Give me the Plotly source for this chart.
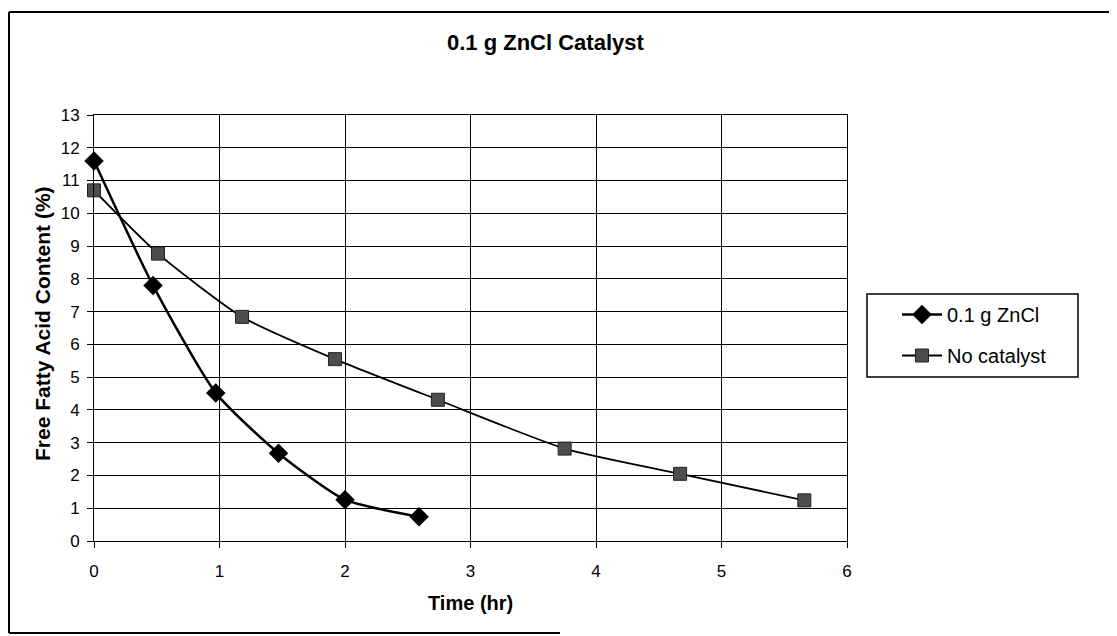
import plotly.graph_objects as go

# data
znclTime = [0, 0.47, 0.97, 1.47, 2.0, 2.59]
znclFfa = [11.6, 7.8, 4.52, 2.68, 1.26, 0.74]
noCatTime = [0, 0.51, 1.18, 1.92, 2.74, 3.75, 4.67, 5.66]
noCatFfa = [10.7, 8.77, 6.84, 5.55, 4.31, 2.82, 2.05, 1.24]

xTicks = [0, 1, 2, 3, 4, 5, 6]
yTicks = list(range(0, 14))

FONT = "Liberation Sans, Arial, sans-serif"

# the page body has an 8px margin, so the figure starts at (8, 8) in the window
OFF = 8
WIN_W, WIN_H = 1117, 636
W, H = WIN_W - OFF, WIN_H - OFF
# plot area in window pixels
PL, PR, PT, PB = 94, 847, 115, 541
L, R, T, B = PL - OFF, WIN_W - PR, PT - OFF, WIN_H - PB
pw, ph = PR - PL, PB - PT


def px_x(p):
    return (p - PL) / pw


def px_y(p):
    return (PB - p) / ph


fig = go.Figure()
fig.add_trace(
    go.Scatter(
        x=znclTime,
        y=znclFfa,
        name="0.1 g ZnCl",
        legendgroup="a",
        mode="lines+markers",
        line=dict(color="black", width=2.5, shape="spline", smoothing=0.6),
        marker=dict(symbol="diamond", size=15, color="black"),
        cliponaxis=False,
    )
)
fig.add_trace(
    go.Scatter(
        x=noCatTime,
        y=noCatFfa,
        name="No catalyst",
        legendgroup="b",
        mode="lines+markers",
        line=dict(color="black", width=1.8, shape="spline", smoothing=0.6),
        marker=dict(symbol="square", size=13, color="#4d4d4d",
                    line=dict(color="#222222", width=1)),
        cliponaxis=False,
    )
)

axis_common = dict(
    showgrid=True,
    gridcolor="black",
    gridwidth=1,
    showline=True,
    linecolor="black",
    linewidth=1,
    mirror=True,
    ticks="outside",
    ticklen=6,
    tickcolor="black",
    zeroline=False,
    tickfont=dict(family=FONT, size=17, color="black"),
)

fig.update_xaxes(range=[0, 6], tickvals=xTicks, ticklabelstandoff=9, **axis_common)
fig.update_yaxes(range=[0, 13], tickvals=yTicks, ticklabelstandoff=4, **axis_common)

# outer chart border + legend box
border = dict(type="line", xref="paper", yref="paper", line=dict(color="black", width=2))
x0b, x1b, y0b, y1b = px_x(9), px_x(WIN_W + 20), px_y(633), px_y(12)
shapes = [
    dict(border, x0=x0b, x1=x1b, y0=y1b, y1=y1b),
    dict(border, x0=x0b, x1=x0b, y0=y0b, y1=y1b),
    dict(border, x0=x0b, x1=px_x(560), y0=y0b, y1=y0b),
    dict(type="rect", xref="paper", yref="paper",
         x0=px_x(867), x1=px_x(1078), y0=px_y(377), y1=px_y(294),
         line=dict(color="black", width=1.5), fillcolor="rgba(0,0,0,0)"),
]

fig.update_layout(
    width=W,
    height=H,
    margin=dict(l=L, r=R, t=T, b=B),
    paper_bgcolor="white",
    plot_bgcolor="white",
    font=dict(family=FONT, color="black"),
    shapes=shapes,
    showlegend=True,
    legend=dict(
        x=px_x(897),
        y=px_y(295),
        xanchor="left",
        yanchor="top",
        borderwidth=0,
        bgcolor="rgba(0,0,0,0)",
        font=dict(family=FONT, size=20, color="black"),
        traceorder="grouped",
        tracegroupgap=12,
        itemwidth=40,
    ),
    annotations=[
        dict(
            text="<b>0.1 g ZnCl Catalyst</b>",
            xref="paper", yref="paper",
            x=px_x(546), y=px_y(42),
            xanchor="center", yanchor="middle",
            showarrow=False,
            font=dict(family=FONT, size=22, color="black"),
        ),
        dict(
            text="<b>Time (hr)</b>",
            xref="paper", yref="paper",
            x=px_x(470), y=px_y(603),
            xanchor="center", yanchor="middle",
            showarrow=False,
            font=dict(family=FONT, size=20, color="black"),
        ),
        dict(
            text="<b>Free Fatty Acid Content (%)</b>",
            xref="paper", yref="paper",
            x=px_x(42), y=px_y(324),
            xanchor="center", yanchor="middle",
            textangle=-90,
            showarrow=False,
            font=dict(family=FONT, size=21, color="black"),
        ),
    ],
)

fig.write_html("out.html")
